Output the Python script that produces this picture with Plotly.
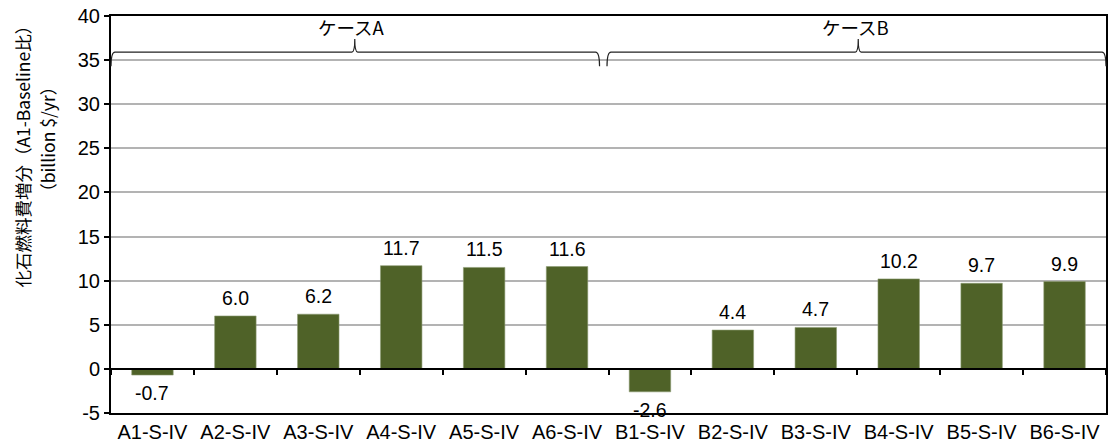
import plotly.graph_objects as go

# Scenario categories and fossil-fuel cost increase vs. A1-Baseline (billion $/yr)
categories = ["A1-S-IV", "A2-S-IV", "A3-S-IV", "A4-S-IV", "A5-S-IV", "A6-S-IV",
              "B1-S-IV", "B2-S-IV", "B3-S-IV", "B4-S-IV", "B5-S-IV", "B6-S-IV"]
cost_increase = [-0.7, 6.0, 6.2, 11.7, 11.5, 11.6,
                 -2.6, 4.4, 4.7, 10.2, 9.7, 9.9]
y_ticks = [-5, 0, 5, 10, 15, 20, 25, 30, 35, 40]
group_labels = ["ケースA", "ケースB"]
y_title_lines = ["化石燃料費増分（A1-Baseline比）", "（billion $/yr）"]

BAR = "#4F6228"
FONT = "Liberation Sans, Arial, sans-serif"
CJK = "Noto Sans CJK JP, " + FONT

fig = go.Figure()
fig.add_trace(go.Bar(
    x=categories, y=cost_increase,
    marker=dict(color=BAR, line=dict(color="#8c9a72", width=0.6)),
    width=0.5,
    showlegend=False,
))
# helper trace for the category axis drawn along y = 0
fig.add_trace(go.Scatter(x=categories, y=[None] * len(categories),
                         xaxis="x2", yaxis="y", showlegend=False,
                         hoverinfo="skip"))

# value labels: above positive bars, below negative ones
for cat, v in zip(categories, cost_increase):
    fig.add_annotation(
        x=cat, y=v, xref="x", yref="y", text=f"{v:.1f}", showarrow=False,
        xanchor="center", yanchor="bottom" if v >= 0 else "top",
        yshift=5 if v >= 0 else -5,
        font=dict(size=19.5, color="black", family=FONT),
    )

fig.update_layout(
    width=1113, height=448,
    margin=dict(l=111, r=5, t=16, b=33),
    paper_bgcolor="white", plot_bgcolor="white",
    font=dict(family=FONT, color="black"),
    xaxis=dict(
        type="category", categoryarray=categories, range=[-0.5, 11.5],
        showline=True, linecolor="black", linewidth=2, mirror=True,
        ticks="", showgrid=False,
        tickfont=dict(size=20, family=FONT),
    ),
    xaxis2=dict(
        type="category", categoryarray=categories, range=[-0.5, 11.5],
        overlaying="x", anchor="free", position=5 / 45,
        showline=True, linecolor="black", linewidth=1.5,
        ticks="outside", tickson="boundaries", ticklen=5, tickwidth=1.5,
        tickcolor="black", showticklabels=False, showgrid=False,
    ),
    yaxis=dict(
        range=[-5, 40], tickvals=y_ticks, ticktext=[str(t) for t in y_ticks],
        showline=True, linecolor="black", linewidth=2, mirror=True,
        ticks="outside", ticklen=5, tickcolor="black", tickwidth=1.5,
        showgrid=True, gridcolor="#b3b3b3", gridwidth=1.5,
        zeroline=False,
        tickfont=dict(size=20, family=FONT),
    ),
)

# Y axis title, two rotated lines
for text, x, y in zip(y_title_lines, [-0.089, -0.064], [0.657, 0.689]):
    fig.add_annotation(
        text=text, xref="paper", yref="paper", x=x, y=y,
        xanchor="center", yanchor="middle", textangle=-90, showarrow=False,
        font=dict(size=17.5, family=CJK),
    )

# Curly braces grouping the two cases
def brace_path(x0, x1, xm, base=35.9, end=34.3, tip=37.4, r=0.004, rt=0.003):
    return (f"M {x0},{end} Q {x0},{base} {x0 + r},{base} "
            f"L {xm - rt},{base} Q {xm},{base} {xm},{tip} "
            f"Q {xm},{base} {xm + rt},{base} "
            f"L {x1 - r},{base} Q {x1},{base} {x1},{end}")

braces = [(0.0, 0.491, 0.245), (0.4985, 1.0, 0.751)]
for (x0, x1, xm), label in zip(braces, group_labels):
    fig.add_shape(type="path", xref="paper", yref="y",
                  path=brace_path(x0, x1, xm),
                  line=dict(color="#222222", width=1.2))
    fig.add_annotation(text=label, xref="paper", yref="y",
                       x=xm - 0.003, y=38.7, xanchor="center", yanchor="middle",
                       showarrow=False, font=dict(size=18.5, family=CJK))

fig.write_html("out.html")
